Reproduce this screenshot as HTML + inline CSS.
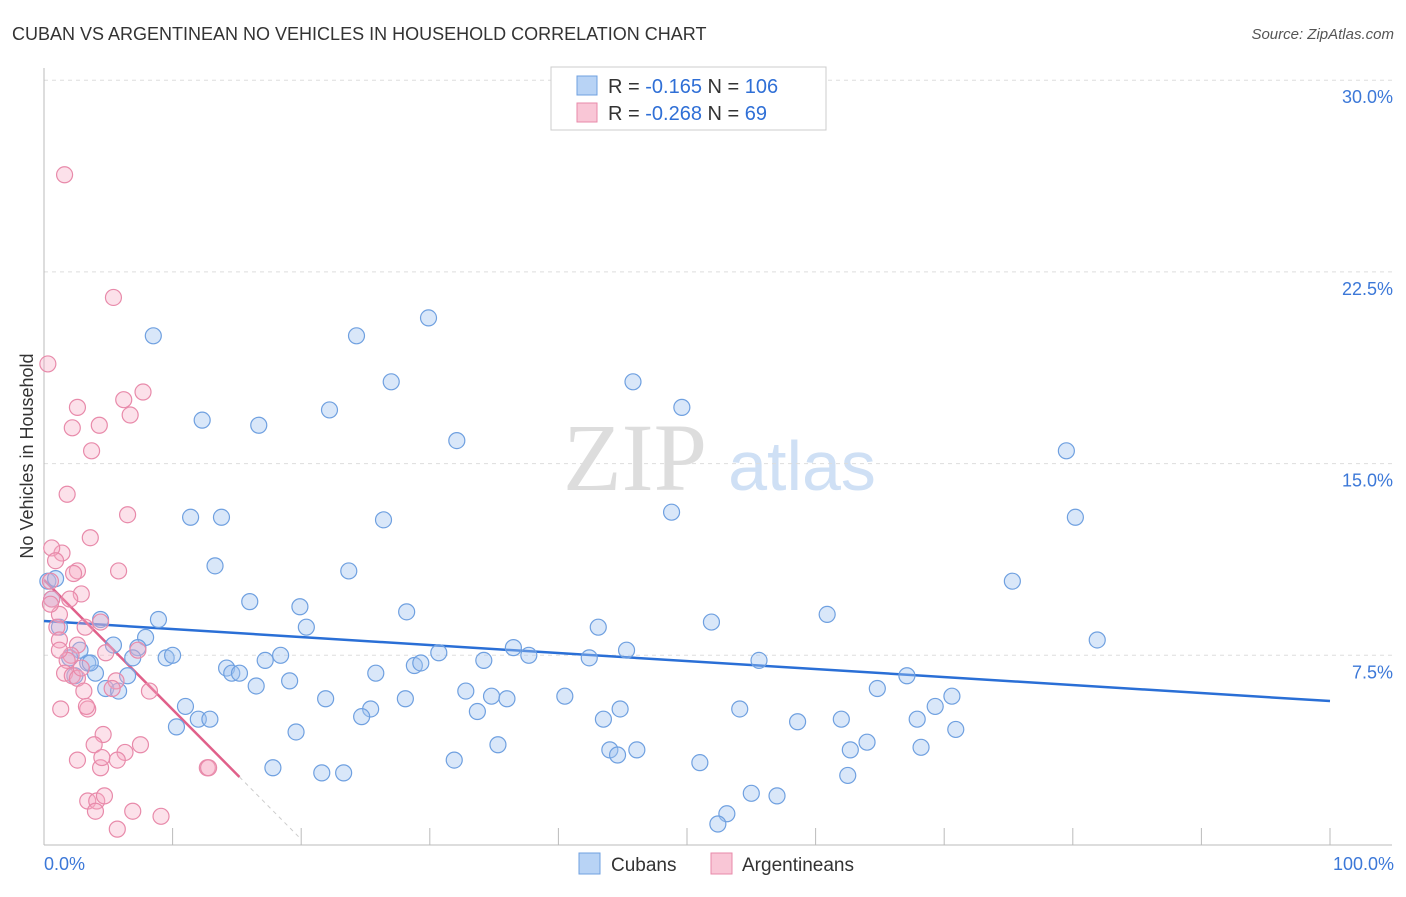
<!DOCTYPE html>
<html><head><meta charset="utf-8"><style>
body{margin:0;background:#fff;font-family:"Liberation Sans",sans-serif;}
svg text{font-family:"Liberation Sans",sans-serif;}
</style></head><body>
<svg width="1406" height="892" xmlns="http://www.w3.org/2000/svg">
<text x="12" y="40" font-size="18" fill="#333">CUBAN VS ARGENTINEAN NO VEHICLES IN HOUSEHOLD CORRELATION CHART</text>
<text x="1394" y="39" font-size="15" fill="#555" font-style="italic" text-anchor="end">Source: ZipAtlas.com</text>
<text transform="translate(33,456) rotate(-90)" font-size="18" fill="#333" text-anchor="middle">No Vehicles in Household</text>
<g>
<text x="635" y="490" font-size="96" fill="#ddd" font-family="Liberation Serif" text-anchor="middle" style="font-family:'Liberation Serif',serif">ZIP</text>
<text x="802" y="490" font-size="70" fill="#cfe0f5" text-anchor="middle">atlas</text>
</g>
<g id="grid"></g><g id="axes"></g><g id="lines"></g><g id="pts"></g>
<g>
<rect x="551" y="67" width="275" height="63" fill="#fff" stroke="#ccc"/>
<rect x="577" y="76" width="20" height="19" fill="#b8d3f5" stroke="#6fa0e0"/>
<rect x="577" y="103" width="20" height="19" fill="#f9c6d6" stroke="#e88aaa"/>
<text x="608" y="93" font-size="20" fill="#333">R = <tspan fill="#2f6fd6">-0.165</tspan>   N = <tspan fill="#2f6fd6">106</tspan></text>
<text x="608" y="120" font-size="20" fill="#333">R = <tspan fill="#2f6fd6">-0.268</tspan>   N = <tspan fill="#2f6fd6">  69</tspan></text>
</g>
<g>
<rect x="579" y="853" width="21" height="21" fill="#b8d3f5" stroke="#6fa0e0"/>
<text x="611" y="871" font-size="19" fill="#333">Cubans</text>
<rect x="711" y="853" width="21" height="21" fill="#f9c6d6" stroke="#e88aaa"/>
<text x="742" y="871" font-size="19" fill="#333">Argentineans</text>
</g>
</svg>
<script>
const yTicks=[7.5,15,22.5,30];
const yTickLabels=["7.5%","15.0%","22.5%","30.0%"];
const xTickVals=[0,10,20,30,40,50,60,70,80,90,100];
const cubanX=[8.5,24.3,29.9,27.0,45.8,49.6,12.3,16.7,22.2,32.1,79.5,11.4,13.8,26.4,48.8,80.2,13.3,23.7,75.3,16.0,19.9,28.2,60.9,8.9,4.4,20.4,43.1,51.9,81.9,7.9,5.4,7.3,9.5,10.0,6.9,3.4,14.2,14.6,15.2,17.2,18.4,25.8,28.8,29.3,30.7,34.2,36.5,37.7,42.4,45.3,55.6,67.1,64.8,70.6,4.0,6.5,16.5,19.1,32.8,34.8,36.0,40.5,21.9,28.1,25.4,24.7,11.0,33.7,44.8,43.5,54.1,58.6,62.0,67.9,69.3,12.0,12.9,10.3,19.6,70.9,35.3,44.0,46.1,64.0,62.7,68.2,31.9,51.0,17.8,21.6,23.3,62.5,55.0,57.0,53.1,52.4,4.8,5.8,0.3,0.9,0.6,1.2,2.8,2.0,3.6,2.4,44.6];
const cubanY=[20.0,20.0,20.7,18.2,18.2,17.2,16.7,16.5,17.1,15.9,15.5,12.9,12.9,12.8,13.1,12.9,11.0,10.8,10.4,9.6,9.4,9.2,9.1,8.9,8.9,8.6,8.6,8.8,8.1,8.2,7.9,7.8,7.4,7.5,7.4,7.2,7.0,6.8,6.8,7.3,7.5,6.8,7.1,7.2,7.6,7.3,7.8,7.5,7.4,7.7,7.3,6.7,6.2,5.9,6.8,6.7,6.3,6.5,6.1,5.9,5.8,5.9,5.8,5.8,5.4,5.1,5.5,5.3,5.4,5.0,5.4,4.9,5.0,5.0,5.5,5.0,5.0,4.7,4.5,4.6,4.0,3.8,3.8,4.1,3.8,3.9,3.4,3.3,3.1,2.9,2.9,2.8,2.1,2.0,1.3,0.9,6.2,6.1,10.4,10.5,9.7,8.6,7.7,7.4,7.2,6.7,3.6];
const argX=[1.6,5.4,0.3,7.7,6.2,2.6,6.7,2.2,4.3,3.7,1.8,6.5,3.6,1.4,0.6,0.9,2.6,5.8,2.3,0.5,2.9,0.6,1.2,1.0,3.2,4.4,1.2,7.3,4.8,2.6,2.1,1.8,1.6,2.2,2.6,2.9,5.6,3.1,8.2,5.3,1.3,3.4,3.3,4.6,3.9,7.5,6.3,2.6,4.4,4.5,5.7,12.7,12.8,3.4,4.1,4.7,4.0,6.9,9.1,5.7,1.2,0.5,2.0];
const argY=[26.3,21.5,18.9,17.8,17.5,17.2,16.9,16.4,16.5,15.5,13.8,13.0,12.1,11.5,11.7,11.2,10.8,10.8,10.7,10.4,9.9,9.7,9.1,8.6,8.6,8.8,8.1,7.7,7.6,7.9,7.5,7.3,6.8,6.7,6.6,7.0,6.5,6.1,6.1,6.2,5.4,5.4,5.5,4.4,4.0,4.0,3.7,3.4,3.1,3.5,3.4,3.1,3.1,1.8,1.8,2.0,1.4,1.4,1.2,0.7,7.7,9.5,9.7];
const cubanTrend=[[0,8.84],[100,5.71]];
const argTrend=[[0,10.45],[15.2,2.74]];
const argTrendDash=[[15.2,2.74],[20,0.3]];
const NS='http://www.w3.org/2000/svg';
const X0=44,X1=1330,Y0=847,YPX=25.56;
const sx=v=>X0+(X1-X0)*v/100, sy=v=>Y0-v*YPX;
function mk(t,a,p){const e=document.createElementNS(NS,t);for(const k in a)e.setAttribute(k,a[k]);p.appendChild(e);return e;}
const grid=document.getElementById('grid'),axes=document.getElementById('axes'),lines=document.getElementById('lines'),pts=document.getElementById('pts');
yTicks.forEach((v,i)=>{
 const l=mk('line',{x1:X0,x2:1392,y1:sy(v),y2:sy(v),stroke:'#ddd','stroke-dasharray':'4,4'},grid);
 
 
 const t=mk('text',{x:1393,y:sy(v)+23,'font-size':18,fill:'#3c78d8','text-anchor':'end'},grid);
 t.textContent=yTickLabels[i];
 
 
});
let a=mk('line',{x1:X0,x2:X0,y1:68,y2:845,stroke:'#bbb'},axes);


a=mk('line',{x1:X0,x2:1392,y1:845,y2:845,stroke:'#bbb'},axes);


xTickVals.forEach(v=>{
 const l=mk('line',{x1:sx(v),x2:sx(v),y1:828,y2:845,stroke:'#bbb'},axes);
 
 
});
[[0,'0.0%','start',44],[100,'100.0%','end',1394]].forEach(d=>{
 const t=mk('text',{x:d[3],y:870,'font-size':18,fill:'#3c78d8','text-anchor':d[2]},axes);
 t.textContent=d[1];
 
 
});
function pts2(x,y,fill,stroke,name){x.forEach((v,i)=>{
 const c=mk('circle',{cx:sx(v),cy:sy(y[i]),r:8,fill:fill,stroke:stroke,'stroke-width':1.2},pts);
 
 
});}
pts2(cubanX,cubanY,'rgba(160,196,240,0.4)','#6fa0e0','cuban-point');
pts2(argX,argY,'rgba(245,170,195,0.35)','#e88aaa','argentinean-point');
function ln(d,col,w,dash,name){const l=mk('line',{x1:sx(d[0][0]),y1:sy(d[0][1]),x2:sx(d[1][0]),y2:sy(d[1][1]),stroke:col,'stroke-width':w},lines);
 if(dash)l.setAttribute('stroke-dasharray',dash);
 
 }
ln(cubanTrend,'#2a6fd6',2.5,null,'cuban-trend-line');
ln(argTrend,'#e0608a',2.5,null,'argentinean-trend-line');
ln(argTrendDash,'#ccc',1,'4,4','argentinean-trend-extension');
</script>
</body></html>
